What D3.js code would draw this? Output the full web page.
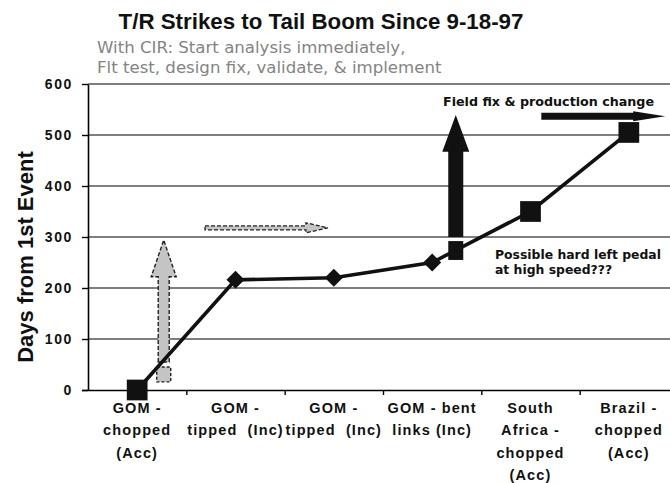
<!DOCTYPE html>
<html>
<head>
<meta charset="utf-8">
<script src="https://cdn.jsdelivr.net/npm/d3@7"></script>
<style>
  body { margin: 0; background: #fff; }
  svg { display: block; }
</style>
</head>
<body>
<script>
// Tail-rotor strike events: days elapsed since the first event
const categories = ["GOM chopped", "GOM tipped A", "GOM tipped B", "GOM bent links", "South Africa chopped", "Brazil chopped"];
const categoryLines = [
  ["GOM -", "chopped", "(Acc)"],
  ["GOM -", "tipped\u00a0\u00a0(Inc)"],
  ["GOM -", "tipped\u00a0\u00a0(Inc)"],
  ["GOM - bent", "links (Inc)"],
  ["South", "Africa -", "chopped", "(Acc)"],
  ["Brazil -", "chopped", "(Acc)"]
];
const days = [0, 216, 220, 250, 350, 505];
const eventClass = ["Acc", "Inc", "Inc", "Inc", "Acc", "Acc"];
const yTicks = [0, 100, 200, 300, 400, 500, 600];

const titleText = "T/R Strikes to Tail Boom Since 9-18-97";
const subtitleLines = ["With CIR: Start analysis immediately,", "Flt test, design fix, validate, & implement"];
const yTitle = "Days from 1st Event";
const fieldFixNote = "Field fix & production change";
const pedalNote = ["Possible hard left pedal", "at high speed???"];

const W = 670, H = 483;
const plot = { left: 88, right: 678, top: 84, bottom: 390 };

const svg = d3.select("body").append("svg")
  .attr("width", W).attr("height", H)
  .style("font-family", "'Liberation Sans', Arial, sans-serif");

const x = d3.scaleBand().domain(categories).range([plot.left, plot.right]).padding(0);
// continuous position in category units (0 = first category centre)
const xPos = d3.scaleLinear().domain([-0.5, categories.length - 0.5]).range([plot.left, plot.right]);
const y = d3.scaleLinear().domain([0, 600]).range([plot.bottom, plot.top]);

// horizontal gridlines
svg.append("g")
  .selectAll("line")
  .data(yTicks.filter(d => d > 0))
  .join("line")
  .attr("x1", plot.left).attr("x2", W)
  .attr("y1", d => y(d)).attr("y2", d => y(d))
  .attr("stroke", "#555").attr("stroke-width", 1.6);

// y axis
const yAxis = svg.append("g")
  .attr("transform", `translate(${plot.left},0)`)
  .call(d3.axisLeft(y).tickValues(yTicks).tickSize(6).tickPadding(9).tickSizeOuter(0));
yAxis.select(".domain").attr("stroke", "#000").attr("stroke-width", 1.6);
yAxis.selectAll(".tick line").attr("stroke", "#000").attr("stroke-width", 1.4);
yAxis.selectAll(".tick text")
  .attr("fill", "#111")
  .style("font-family", "'Liberation Sans', Arial, sans-serif")
  .style("font-size", "14px").style("font-weight", "bold")
  .style("letter-spacing", "1.6px");

// x axis: ticks sit on the category boundaries
const xAxis = svg.append("g")
  .attr("transform", `translate(0,${plot.bottom})`)
  .call(d3.axisBottom(xPos)
    .tickValues(d3.range(0.5, categories.length - 0.5 + 0.01, 1))
    .tickFormat("").tickSize(5).tickSizeOuter(0));
xAxis.select(".domain").attr("d", `M${plot.left - 6},0.5H${W}`).attr("stroke", "#000").attr("stroke-width", 1.6);
xAxis.selectAll(".tick line").attr("stroke", "#000").attr("stroke-width", 1.4);

// category labels
const labelG = svg.append("g");
categories.forEach((c, i) => {
  const cx = x(c) + x.bandwidth() / 2;
  const t = labelG.append("text")
    .attr("x", cx)
    .attr("y", 413)
    .attr("text-anchor", "middle")
    .attr("fill", "#111")
    .style("font-size", "14.5px").style("font-weight", "bold")
    .style("letter-spacing", "1.1px");
  categoryLines[i].forEach((ln, k) => {
    t.append("tspan").attr("x", cx).attr("dy", k === 0 ? 0 : 22.3).text(ln);
  });
});

// y-axis title
svg.append("text")
  .attr("transform", `translate(33,257) rotate(-90)`)
  .attr("text-anchor", "middle")
  .attr("fill", "#111")
  .style("font-size", "22px").style("font-weight", "bold")
  .text(yTitle);

// title and subtitle
svg.append("text")
  .attr("x", 321).attr("y", 29)
  .attr("text-anchor", "middle")
  .attr("fill", "#111")
  .style("font-size", "22.3px").style("font-weight", "bold")
  .text(titleText);
svg.append("g").selectAll("text")
  .data(subtitleLines)
  .join("text")
  .attr("x", 97).attr("y", (d, i) => 53 + i * 20)
  .attr("fill", "#848484")
  .style("font-family", "'DejaVu Sans', Verdana, sans-serif")
  .style("font-size", "16.6px")
  .text(d => d);

// ---- annotation arrows (positions in category units / days) ----
function upArrow(cx, vBase, vHeadBase, vTip, shaftW, headW) {
  const px = xPos(cx);
  return [
    [px - shaftW / 2, y(vBase)], [px - shaftW / 2, y(vHeadBase)], [px - headW / 2, y(vHeadBase)],
    [px, y(vTip)],
    [px + headW / 2, y(vHeadBase)], [px + shaftW / 2, y(vHeadBase)], [px + shaftW / 2, y(vBase)]
  ];
}
function rightArrow(c0, c1, v, shaftH, headLen, headH) {
  const x0 = xPos(c0), x1 = xPos(c1), py = y(v);
  return [
    [x0, py - shaftH / 2], [x1 - headLen, py - shaftH / 2], [x1 - headLen, py - headH / 2],
    [x1, py],
    [x1 - headLen, py + headH / 2], [x1 - headLen, py + shaftH / 2], [x0, py + shaftH / 2]
  ];
}
const poly = pts => "M" + pts.map(p => p.join(",")).join("L") + "Z";

const annot = svg.append("g");

// grey dashed "CIR" arrows
annot.append("rect")
  .attr("x", xPos(0.27) - 7).attr("y", y(45))
  .attr("width", 14).attr("height", y(16) - y(45))
  .attr("fill", "#c4c4c4").attr("stroke", "#222").attr("stroke-width", 1.4)
  .attr("stroke-dasharray", "3,2");
annot.append("path")
  .attr("d", poly(upArrow(0.27, 55, 222, 294, 11, 25)))
  .attr("fill", "#c4c4c4").attr("stroke", "#222").attr("stroke-width", 1.4)
  .attr("stroke-dasharray", "4,2");
annot.append("path")
  .attr("d", poly(rightArrow(0.69, 1.94, 318, 4, 22, 10)))
  .attr("fill", "#c4c4c4").attr("stroke", "#222").attr("stroke-width", 1.3)
  .attr("stroke-dasharray", "4,2");

// black "field fix" arrows
annot.append("rect")
  .attr("x", xPos(3.24) - 7.5).attr("y", y(292))
  .attr("width", 15).attr("height", y(255) - y(292))
  .attr("fill", "#111");
annot.append("path")
  .attr("d", poly(upArrow(3.24, 300, 467, 539, 15, 27)))
  .attr("fill", "#111");
annot.append("path")
  .attr("d", poly(rightArrow(4.11, 5.37, 537, 7, 32, 10)))
  .attr("fill", "#111");

// ---- data line and markers ----
const pts = categories.map((c, i) => ({ x: x(c) + x.bandwidth() / 2, y: y(days[i]), k: eventClass[i] }));
svg.append("path")
  .datum(pts)
  .attr("d", d3.line().x(d => d.x).y(d => d.y))
  .attr("fill", "none").attr("stroke", "#111").attr("stroke-width", 3.6);

svg.append("g").selectAll("path")
  .data(pts)
  .join("path")
  .attr("transform", d => `translate(${d.x},${d.y})`)
  .attr("d", d => d.k === "Acc"
    ? d3.symbol(d3.symbolSquare, 430)()
    : "M0,-9L9,0L0,9L-9,0Z")
  .attr("fill", "#111");

// note texts
svg.append("text")
  .attr("x", 443).attr("y", 106)
  .attr("fill", "#111")
  .style("font-family", "'DejaVu Sans', Verdana, sans-serif")
  .style("font-size", "12.7px").style("font-weight", "bold")
  .text(fieldFixNote);
svg.append("g").selectAll("text")
  .data(pedalNote)
  .join("text")
  .attr("x", 495).attr("y", (d, i) => 259 + i * 15)
  .attr("fill", "#111")
  .style("font-family", "'DejaVu Sans', Verdana, sans-serif")
  .style("font-size", "12.4px").style("font-weight", "bold")
  .text(d => d);
</script>
</body>
</html>
